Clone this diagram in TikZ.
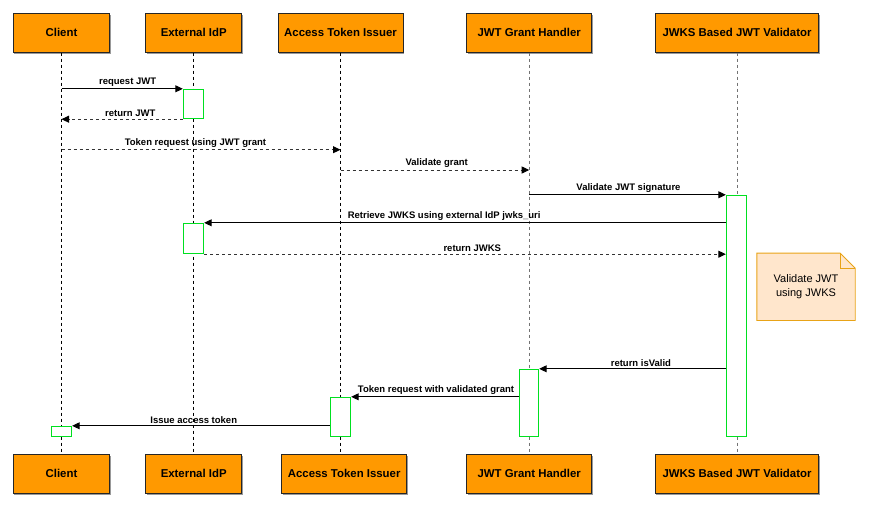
\documentclass[tikz,border=0pt]{standalone}
\usepackage{fontspec}
\setmainfont{Liberation Sans}
\usetikzlibrary{arrows.meta,backgrounds,shadows}
\definecolor{hdrfill}{HTML}{FF9900}
\definecolor{actgreen}{HTML}{00E020}
\definecolor{notefill}{HTML}{FFE6CC}
\definecolor{notedraw}{HTML}{E8A317}
\begin{document}
\begin{tikzpicture}[x=1pt,y=-1pt,
  hdr/.style={draw=black!85, fill=hdrfill, line width=0.8pt, minimum height=39pt, inner sep=0pt,
    font=\bfseries\fontsize{11.4}{13}\selectfont,
    drop shadow={shadow xshift=0.8pt, shadow yshift=-1.2pt, fill=black!40, opacity=1}},
  life/.style={draw=black, line width=0.9pt, dash pattern=on 3pt off 3pt},
  lifeg/.style={draw=black!55, line width=1pt, dash pattern=on 3pt off 3pt},
  act/.style={draw=actgreen, fill=white, line width=1.4pt, inner sep=0pt, minimum width=20pt},
  msg/.style={draw=black, line width=1pt, -{Triangle[length=7.5pt,width=7pt,fill=black,color=black]}},
  rmsg/.style={msg, draw=black!80, dash pattern=on 3pt off 3pt},
  lbl/.style={font=\bfseries\fontsize{9.5}{11}\selectfont, above=1pt, inner sep=1pt, text=black}
]
\useasboundingbox (0,0) rectangle (872,522);

% headers
\node[hdr, minimum width=96.4pt] (cT) at (61.5,32.8) {Client};
\node[hdr, minimum width=96pt] (eT) at (193.7,32.8) {External IdP};
\node[hdr, minimum width=125pt] (aT) at (340.5,32.8) {Access Token Issuer};
\node[hdr, minimum width=125pt] (gT) at (529.2,32.8) {JWT Grant Handler};
\node[hdr, minimum width=163.4pt] (vT) at (737,32.8) {JWKS Based JWT Validator};

\node[hdr, minimum width=96.4pt] (cB) at (61.5,473.8) {Client};
\node[hdr, minimum width=96pt] (eB) at (193.7,473.8) {External IdP};
\node[hdr, minimum width=125pt] (aB) at (344.2,473.8) {Access Token Issuer};
\node[hdr, minimum width=125pt] (gB) at (529.2,473.8) {JWT Grant Handler};
\node[hdr, minimum width=163.4pt] (vB) at (737,473.8) {JWKS Based JWT Validator};

% lifelines
\draw[life] (cT.south) -- (cT.south |- cB.north);
\draw[life] (eT.south) -- (eT.south |- eB.north);
\draw[life] (aT.south) -- (aT.south |- aB.north);
\draw[lifeg] (gT.south) -- (gT.south |- gB.north);
\draw[lifeg] (vT.south) -- (vT.south |- vB.north);

% activations
\node[act, minimum height=29pt] (act1) at (193.5,104) {};
\node[act, minimum height=30pt] (act2) at (193.5,238.5) {};
\node[act, minimum height=241pt] (actV) at (736.5,316) {};
\node[act, minimum width=19pt, minimum height=67pt] (actG) at (529,403) {};
\node[act, minimum height=39pt] (actA) at (340.5,417) {};
\node[act, minimum height=10pt] (actC) at (61.5,431.5) {};

% level coordinates
\coordinate (y3) at (0,149.7);
\coordinate (y4) at (0,170);

% messages
\draw[msg] (cT.south |- act1.north west) -- node[lbl, pos=0.545] {request JWT} (act1.north west);
\draw[rmsg] (act1.south west) -- node[lbl, pos=0.433] {return JWT} (cT.south |- act1.south west);
\draw[rmsg] (cT.south |- y3) -- node[lbl, pos=0.48] {Token request using JWT grant} (aT.south |- y3);
\draw[rmsg] (aT.south |- y4) -- node[lbl, pos=0.51] {Validate grant} (gT.south |- y4);
\draw[msg] (gT.south |- actV.north west) -- node[lbl, pos=0.505] {Validate JWT signature} (actV.north west);
\draw[msg] (actV.west |- act2.north) -- node[lbl, pos=0.54] {Retrieve JWKS using external IdP jwks\_uri} (act2.north east);
\draw[rmsg] (act2.south east) -- node[lbl, pos=0.514] {return JWKS} (actV.west |- act2.south east);
\draw[msg] (actV.west |- actG.north) -- node[lbl, pos=0.455] {return isValid} (actG.north east);
\draw[msg] (actG.west |- actA.north) -- node[lbl, pos=0.494] {Token request with validated grant} (actA.north east);
\draw[msg] (actA.west |- actC.north) -- node[lbl, pos=0.528] {Issue access token} (actC.north east);

% note
\node[font=\fontsize{11}{13.5}\selectfont, align=center, minimum width=98pt, minimum height=67pt, inner sep=0pt] (note) at (806,286.8) {Validate JWT\\using JWKS};
\begin{pgfonlayer}{background}
\draw[draw=notedraw, fill=notefill, line width=0.9pt, line join=miter]
  (note.north west) -- ([xshift=-15pt]note.north east) -- ([yshift=-15pt]note.north east)
  -- (note.south east) -- (note.south west) -- cycle;
\draw[draw=notedraw, line width=0.9pt]
  ([xshift=-15pt]note.north east) -- ([xshift=-15pt,yshift=-15pt]note.north east) -- ([yshift=-15pt]note.north east);
\end{pgfonlayer}
\end{tikzpicture}
\end{document}
